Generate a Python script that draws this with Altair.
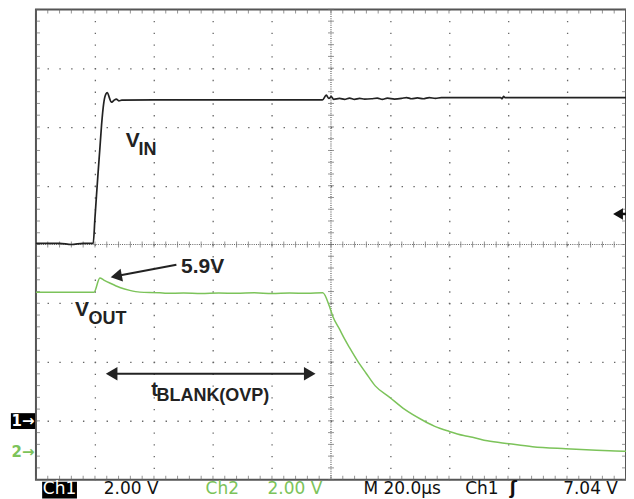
import altair as alt
import pandas as pd

# ---------------- data (time in µs, 0 = trigger; volts) ----------------
vin_t = [-20, -12, -8, -4, -0.6, 0, 0.54, 1.08, 1.66, 2.23, 3.01, 3.69, 4.2, 4.87,
         5.55, 6.4, 7.24, 8.09, 9.1, 20, 40, 60, 77.1, 78.4, 79.3, 80.1, 80.9,
         82.9, 84.6, 86.3, 88.0, 89.7, 91.4, 93.7, 95.7, 97.4, 99.1, 101.5, 103.9,
         105.6, 107.3, 109.3, 111.3, 113.3, 115.4, 117.4, 125, 137.5, 138, 138.5,
         139, 150, 165, 180]
vin_v = [6.04, 6.04, 6.0, 6.04, 6.04, 6.90, 7.70, 8.47, 9.26, 10.06, 10.84, 11.12, 11.17, 11.0,
         10.84, 10.90, 10.95, 10.89, 10.91, 10.92, 10.92, 10.92, 10.92, 11.08, 10.97, 11.03, 10.94,
         10.97, 10.94, 10.98, 10.94, 10.97, 10.95, 10.96, 10.98, 10.94, 10.98, 10.95, 10.97,
         11.00, 10.96, 10.99, 10.96, 11.00, 10.97, 11.00, 11.00, 11.00, 10.96, 11.04,
         11.00, 11.00, 11.00, 11.00]

vout_t = [-20, -10, -0.3, 1.66, 3.0, 5.04, 8.43, 11.8, 15.2, 22.0, 24.3, 30, 36, 42, 48, 54,
          60, 66, 72, 77.2, 79.5, 80.6, 82.9, 84.6, 86.3, 89.0, 91.9, 95.0, 99.8, 105,
          111.1, 115, 120.1, 125, 128.0, 133, 140.4, 148.3, 159.6, 170, 179.3, 180]
vout_v = [5.44, 5.44, 5.44, 5.92, 5.85, 5.75, 5.60, 5.50, 5.44, 5.42, 5.40, 5.41, 5.39, 5.41, 5.40, 5.42,
          5.39, 5.41, 5.40, 5.42, 4.95, 4.62, 4.18, 3.85, 3.55, 3.10, 2.68, 2.25, 1.87, 1.45,
          1.08, 0.88, 0.70, 0.56, 0.50, 0.38, 0.28, 0.18, 0.11, 0.06, 0.03, 0.03]

status_labels = ["2.00 V", "M 20.0µs", "Ch1", "7.04 V"]
status_t = [3.0, 91.0, 125.5, 158.7]
status_green_labels = ["Ch2", "2.00 V"]
status_green_t = [37.5, 58.5]

T_MIN, T_MAX = -20, 180
DIV_MIN, DIV_MAX = 0, 8
CH1_GROUND = 1.0
CH2_GROUND = 0.47
VPD = 2.0
W, H = 591, 471

GREEN = "#7cc35a"
TRACE_BLACK = "#222222"
GRID = "#666666"
FONT_B = "Liberation Sans"
FONT_S = "DejaVu Sans"

xs = alt.Scale(domain=[T_MIN, T_MAX], nice=False, zero=False)
ys = alt.Scale(domain=[DIV_MIN, DIV_MAX], nice=False, zero=False)
xaxis = alt.Axis(values=[0, 20, 40, 60, 100, 120, 140, 160], grid=True, labels=False,
                 ticks=False, domain=False, title=None, gridColor=GRID,
                 gridDash=[1.4, H / 40 - 1.4], gridDashOffset=0.7, gridWidth=1.3,
                 gridOpacity=1)
yaxis = alt.Axis(values=[1, 2, 3, 5, 6, 7], grid=True, labels=False, ticks=False,
                 domain=False, title=None, gridColor=GRID,
                 gridDash=[1.4, W / 50 - 1.4], gridDashOffset=0.7, gridWidth=1.3,
                 gridOpacity=1)


def X(f="t"):
    return alt.X(f"{f}:Q", scale=xs, axis=xaxis)


def Y(f="div"):
    return alt.Y(f"{f}:Q", scale=ys, axis=yaxis)


vin = pd.DataFrame({"t": vin_t, "v": vin_v})
vout = pd.DataFrame({"t": vout_t, "v": vout_v})

layers = []

# center dotted lines
layers.append(alt.Chart(pd.DataFrame({"t": [(T_MIN + T_MAX) / 2]})).mark_rule(
    color=GRID, strokeDash=[1, 1.2], strokeWidth=1.2).encode(x=X()))
layers.append(alt.Chart(pd.DataFrame({"div": [(DIV_MIN + DIV_MAX) / 2]})).mark_rule(
    color=GRID, strokeDash=[1, 1.2], strokeWidth=1.2).encode(y=Y()))

xseq = alt.sequence(T_MIN, T_MAX + 0.01, 4, as_="t")
yseq = alt.sequence(DIV_MIN, DIV_MAX + 0.001, 0.2, as_="div")

# minor ticks on center lines
layers.append(alt.Chart(yseq).transform_calculate(t=str((T_MIN + T_MAX) / 2)).mark_tick(
    orient="horizontal", size=6, thickness=1, color=GRID).encode(x=X(), y=Y()))
layers.append(alt.Chart(xseq).transform_calculate(div=str((DIV_MIN + DIV_MAX) / 2)).mark_tick(
    orient="vertical", size=6, thickness=1, color=GRID).encode(x=X(), y=Y()))
# border ticks (inside)
layers.append(alt.Chart(xseq).transform_calculate(div=str(DIV_MAX)).mark_tick(
    orient="vertical", size=4, thickness=1, color=GRID, yOffset=2).encode(x=X(), y=Y()))
layers.append(alt.Chart(xseq).transform_calculate(div=str(DIV_MIN)).mark_tick(
    orient="vertical", size=4, thickness=1, color=GRID, yOffset=-2).encode(x=X(), y=Y()))
layers.append(alt.Chart(yseq).transform_calculate(t=str(T_MIN)).mark_tick(
    orient="horizontal", size=4, thickness=1, color=GRID, xOffset=2).encode(x=X(), y=Y()))
layers.append(alt.Chart(yseq).transform_calculate(t=str(T_MAX)).mark_tick(
    orient="horizontal", size=4, thickness=1, color=GRID, xOffset=-2).encode(x=X(), y=Y()))

# traces
layers.append(alt.Chart(vout).transform_calculate(div=f"datum.v/{VPD} + {CH2_GROUND}").mark_line(
    color=GREEN, strokeWidth=1.5, interpolate="monotone").encode(x=X(), y=Y()))
layers.append(alt.Chart(vin).transform_calculate(div=f"datum.v/{VPD} + {CH1_GROUND}").mark_line(
    color=TRACE_BLACK, strokeWidth=1.7, interpolate="monotone").encode(x=X(), y=Y()))

# ---- annotations ----
def text_layer(df, **kw):
    return alt.Chart(df).mark_text(**kw).encode(x=X(), y=Y(), text="label:N")


big = dict(align="left", baseline="alphabetic", font=FONT_B, fontWeight="bold", color="#222")
layers.append(text_layer(pd.DataFrame({"t": [10.4, -6.8, 29.2], "div": [5.654, 2.785, 3.516],
                                       "label": ["V", "V", "5.9V"]}), fontSize=21, **big))
layers.append(text_layer(pd.DataFrame({"t": [14.75, -2.2, 20.85], "div": [5.519, 2.655, 1.333],
                                       "label": ["IN", "OUT", "BLANK(OVP)"]}), fontSize=18, **big))
layers.append(text_layer(pd.DataFrame({"t": [19.1], "div": [1.418], "label": ["t"]}), fontSize=20, **big))

# 5.9V arrow
layers.append(alt.Chart(pd.DataFrame({"t": [27.6], "div": [3.657], "t2": [7.8], "div2": [3.47]})).mark_rule(
    color="#222", strokeWidth=2).encode(x=X(), y=Y(), x2="t2:Q", y2="div2:Q"))
layers.append(alt.Chart(pd.DataFrame({"t": [7.21], "div": [3.462]})).mark_point(
    shape="triangle-right", filled=True, size=170, angle=169.3, color="#222", opacity=1).encode(x=X(), y=Y()))

# t_blank double arrow
layers.append(alt.Chart(pd.DataFrame({"t": [5.6], "div": [1.801], "t2": [72.9]})).mark_rule(
    color="#222", strokeWidth=2).encode(x=X(), y=Y(), x2="t2:Q"))
layers.append(alt.Chart(pd.DataFrame({"t": [5.65], "div": [1.801]})).mark_point(
    shape="triangle-left", filled=True, size=180, color="#222", opacity=1).encode(x=X(), y=Y()))
layers.append(alt.Chart(pd.DataFrame({"t": [72.8], "div": [1.801]})).mark_point(
    shape="triangle-right", filled=True, size=180, color="#222", opacity=1).encode(x=X(), y=Y()))

# trigger level marker (right)
TRIG_DIV = 7.04 / VPD + CH1_GROUND
layers.append(alt.Chart(pd.DataFrame({"t": [177.0], "div": [TRIG_DIV], "t2": [T_MAX]})).mark_rule(
    color="#111", strokeWidth=2.5).encode(x=X(), y=Y(), x2="t2:Q"))
layers.append(alt.Chart(pd.DataFrame({"t": [177.3], "div": [TRIG_DIV]})).mark_point(
    shape="triangle-left", filled=True, size=130, color="#111", opacity=1).encode(x=X(), y=Y()))

# channel ground markers (left)
layers.append(alt.Chart(pd.DataFrame({"t": [-28.5], "t2": [-20.3], "div": [1.131], "div2": [0.861]})).mark_rect(
    color="#000").encode(x=X(), x2="t2:Q", y=Y(), y2="div2:Q"))
layers.append(text_layer(pd.DataFrame({"t": [-24.4], "div": [CH1_GROUND], "label": ["1→"]}),
                         align="center", baseline="middle", font="DejaVu Sans", fontWeight="bold",
                         fontSize=15, color="white"))
layers.append(text_layer(pd.DataFrame({"t": [-24.4], "div": [CH2_GROUND], "label": ["2→"]}),
                         align="center", baseline="middle", font="DejaVu Sans", fontWeight="bold",
                         fontSize=15, color=GREEN))

# status line
STATUS_DIV = -0.236
layers.append(alt.Chart(pd.DataFrame({"t": [-17.9], "t2": [-6.1], "div": [-0.034], "div2": [-0.32]})).mark_rect(
    color="#000").encode(x=X(), x2="t2:Q", y=Y(), y2="div2:Q"))
layers.append(text_layer(pd.DataFrame({"t": [-12.0], "div": [STATUS_DIV], "label": ["Ch1"]}),
                         align="center", baseline="alphabetic", font=FONT_S, fontSize=17, color="white"))
layers.append(text_layer(pd.DataFrame({"t": status_t, "div": [STATUS_DIV] * len(status_t),
                                       "label": status_labels}),
                         align="left", baseline="alphabetic", font=FONT_S, fontSize=17, color="#111"))
layers.append(text_layer(pd.DataFrame({"t": [140.6], "div": [STATUS_DIV], "label": ["ʃ"]}),
                         align="left", baseline="alphabetic", font=FONT_S, fontWeight="bold",
                         fontSize=17, color="#111"))
layers.append(text_layer(pd.DataFrame({"t": status_green_t, "div": [STATUS_DIV] * len(status_green_t),
                                       "label": status_green_labels}),
                         align="left", baseline="alphabetic", font=FONT_S, fontSize=17, color=GREEN))

chart = alt.layer(*layers).properties(
    width=W, height=H,
    padding={"left": 28, "top": 1, "right": 0, "bottom": 19},
    autosize=alt.AutoSizeParams(type="none"),
    background="white",
).configure_view(stroke="#555", strokeWidth=2)

chart.save("out.html", embed_options={"renderer": "svg", "actions": False})
